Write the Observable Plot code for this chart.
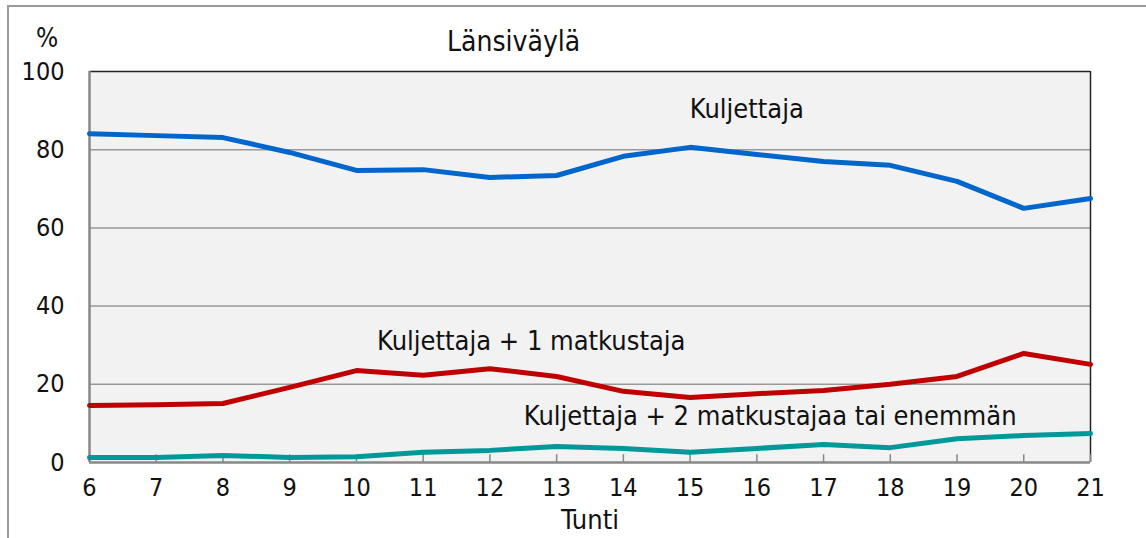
<!DOCTYPE html>
<html>
<head>
<meta charset="utf-8">
<script src="https://cdn.jsdelivr.net/npm/d3@7"></script>
<script src="https://cdn.jsdelivr.net/npm/@observablehq/plot@0.6"></script>
<style>
  html, body { margin: 0; padding: 0; background: #fff; }
  #wrap { position: relative; width: 1146px; height: 538px; overflow: hidden;
    font-family: "DejaVu Sans Condensed", "Liberation Sans Narrow", sans-serif; }
  #frame { position: absolute; left: 7px; top: 5px; width: 1200px; height: 600px;
    border-left: 2px solid #9a9a9a; border-top: 2px solid #9a9a9a; }
  .t { position: absolute; color: #111; white-space: nowrap; line-height: 1; }
  #chart { position: absolute; left: 0; top: 0; }
</style>
</head>
<body>
<div id="wrap">
  <div id="frame"></div>
  <div id="chart"></div>
  <div class="t" style="left:36px; top:25px; font-size:26px;">%</div>
  <div class="t" style="left:447px; top:28px; font-size:28px;">Länsiväylä</div>
</div>
<script>
const hours = [6,7,8,9,10,11,12,13,14,15,16,17,18,19,20,21];
const kuljettaja = [84.1,83.6,83.1,79.3,74.7,74.9,72.9,73.4,78.3,80.6,78.8,77.0,76.0,71.9,65.0,67.5];
const plus1 = [14.6,14.8,15.1,19.2,23.5,22.3,24.0,22.0,18.2,16.6,17.6,18.4,20.0,22.0,27.9,25.1];
const plus2 = [1.3,1.3,1.8,1.3,1.5,2.6,3.1,4.1,3.6,2.6,3.6,4.6,3.8,6.1,6.9,7.4];
const seriesNames = ["Kuljettaja", "Kuljettaja + 1 matkustaja", "Kuljettaja + 2 matkustajaa tai enemmän"];
const seriesColors = ["#0066cc", "#c00000", "#009999"];
const yTicks = [0,20,40,60,80,100];
const labelPos = [
  {name: seriesNames[0], hour: 15.85, value: 90.3},
  {name: seriesNames[1], hour: 12.62, value: 31.0},
  {name: seriesNames[2], hour: 16.2, value: 11.8}
];

const rows = [];
[kuljettaja, plus1, plus2].forEach((arr, i) => {
  arr.forEach((v, j) => rows.push({series: seriesNames[i], hour: hours[j], value: v}));
});

const font = '"DejaVu Sans Condensed", "Liberation Sans Narrow", sans-serif';

const chart = Plot.plot({
  width: 1146,
  height: 538,
  marginLeft: 89,
  marginRight: 56,
  marginTop: 71,
  marginBottom: 76,
  style: {fontFamily: font, fontSize: "24px", color: "#111", background: "transparent", overflow: "visible"},
  x: {domain: [6, 21]},
  y: {domain: [0, 100]},
  color: {domain: seriesNames, range: seriesColors},
  marks: [
    Plot.frame({fill: "#f2f2f2", stroke: "none"}),
    Plot.gridY(yTicks.filter(d => d > 0 && d < 100), {stroke: "#999", strokeOpacity: 1, strokeWidth: 1.5}),
    Plot.ruleY([100], {stroke: "#222", strokeWidth: 1.5}),
    Plot.ruleX([21], {stroke: "#222", strokeWidth: 1.5}),
    Plot.ruleX([6], {stroke: "#888", strokeWidth: 2.5}),
    Plot.ruleX(hours, {x: d => d, y1: 0, y2: 2, stroke: "#888", strokeWidth: 1.5}),
    Plot.ruleY([0], {stroke: "#888", strokeWidth: 2.5}),
    Plot.axisY(yTicks, {tickSize: 0, tickPadding: 25, fontSize: 25, label: null, fill: "#111"}),
    Plot.axisX(hours, {tickSize: 0, tickPadding: 16, fontSize: 25, fill: "#111", label: null}),
    Plot.axisX({fontSize: 27, fill: "#111", ticks: [], tickSize: 0,
      label: "Tunti", labelAnchor: "center", labelOffset: 66, labelArrow: false}),
    Plot.line(rows, {x: "hour", y: "value", z: "series", stroke: "series", strokeWidth: 5, strokeLinejoin: "round"}),
    Plot.text(labelPos, {x: "hour", y: "value", text: "name", fontSize: 27, fill: "#111"})
  ]
});
document.getElementById("chart").appendChild(chart);
</script>
</body>
</html>
